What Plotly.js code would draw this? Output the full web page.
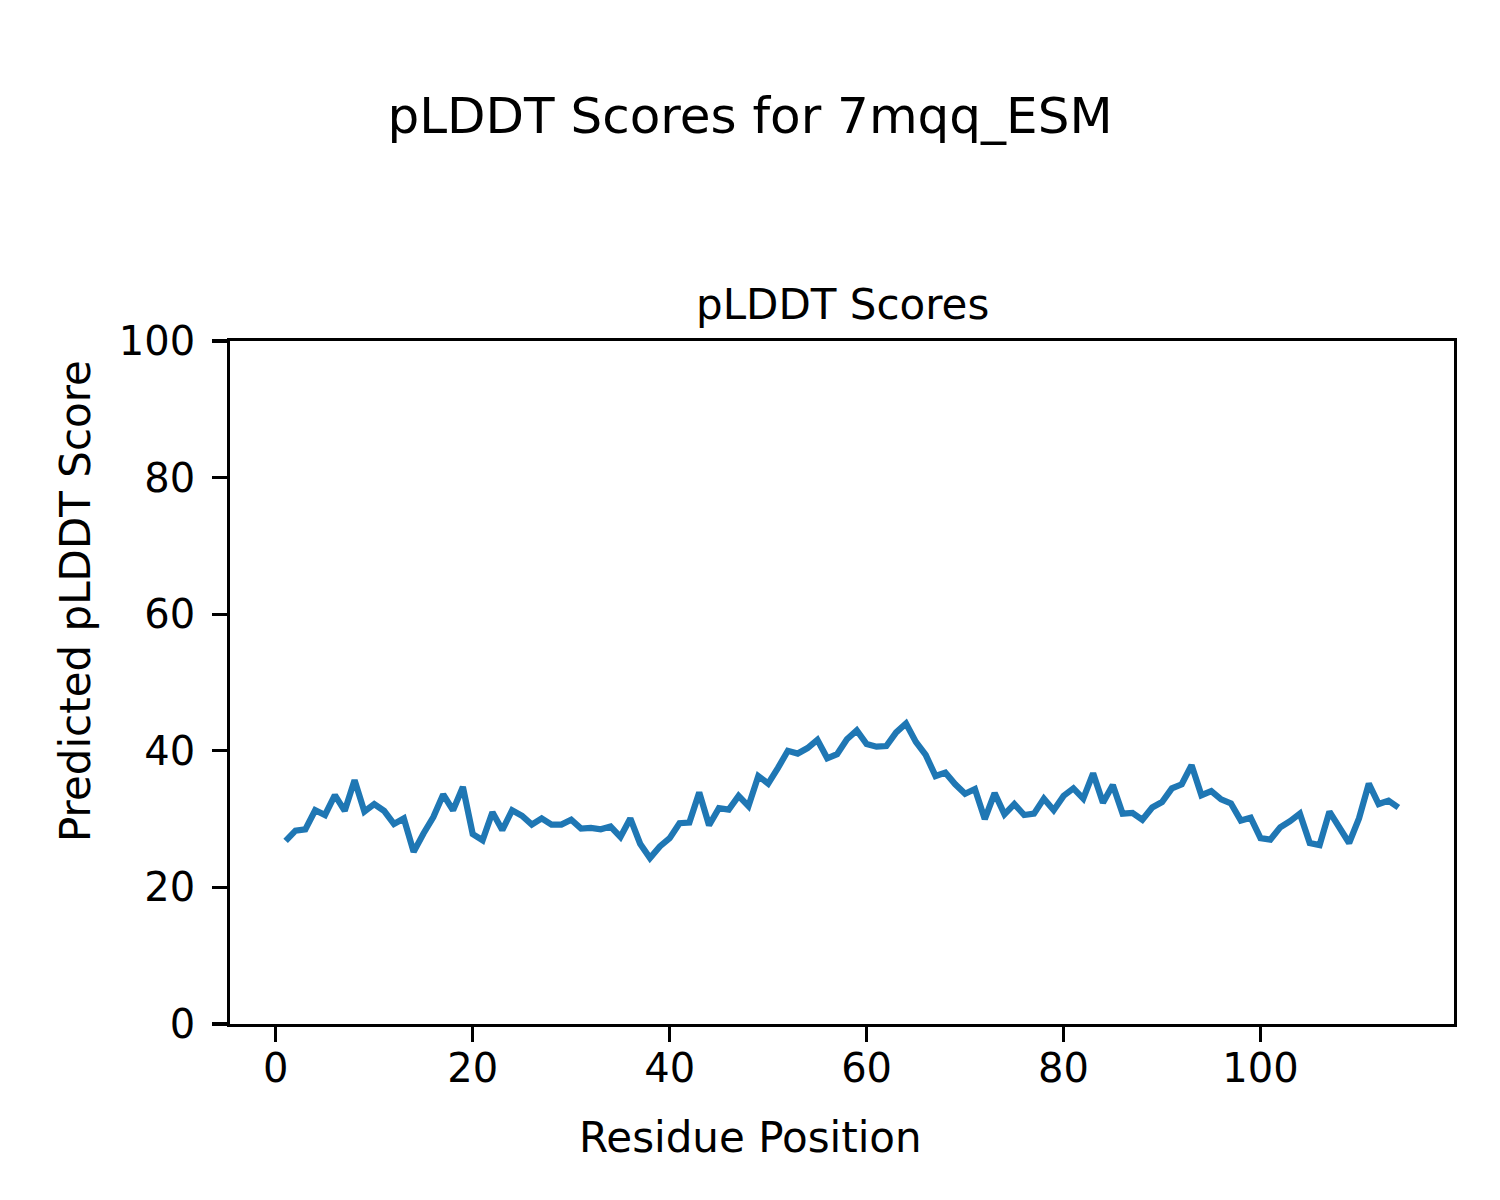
<!DOCTYPE html>
<html>
<head>
<meta charset="utf-8">
<script src="https://cdn.plot.ly/plotly-3.0.1.min.js"></script>
<style>html,body{margin:0;padding:0;background:#fff;}#chart{width:1500px;height:1200px;}</style>
</head>
<body>
<div id="chart"></div>
<script>
const residues = [];
for (let i = 1; i <= 114; i++) residues.push(i);
const plddt = [
  26.8, 28.3, 28.5, 31.3, 30.6, 33.5, 31.2, 35.7, 31.1, 32.2,
  31.2, 29.3, 30.1, 25.2, 27.9, 30.3, 33.6, 31.3, 34.7, 27.8,
  26.9, 31.0, 28.4, 31.3, 30.5, 29.2, 30.1, 29.2, 29.2, 29.9,
  28.6, 28.7, 28.5, 28.9, 27.4, 30.1, 26.4, 24.3, 26.0, 27.2,
  29.4, 29.5, 33.9, 29.1, 31.6, 31.4, 33.4, 31.9, 36.3, 35.2,
  37.5, 40.0, 39.6, 40.4, 41.6, 38.9, 39.5, 41.7, 43.0, 41.0,
  40.6, 40.7, 42.7, 44.0, 41.3, 39.4, 36.3, 36.8, 35.1, 33.7,
  34.4, 30.0, 33.8, 30.7, 32.2, 30.6, 30.8, 33.0, 31.3, 33.4,
  34.5, 33.0, 36.7, 32.4, 35.0, 30.8, 30.9, 29.9, 31.7, 32.5,
  34.5, 35.1, 37.9, 33.5, 34.1, 32.9, 32.3, 29.8, 30.2, 27.2,
  27.0, 28.8, 29.7, 30.8, 26.5, 26.2, 31.1, 28.8, 26.5, 30.1,
  35.2, 32.2, 32.7, 31.7
];
const xTicks = [0, 20, 40, 60, 80, 100];
const yTicks = [0, 20, 40, 60, 80, 100];

const font = {family: 'DejaVu Sans', color: '#000'};
const axisCommon = {
  showgrid: false, zeroline: false, showline: true, mirror: true,
  linecolor: '#000', linewidth: 3.3, ticks: 'outside', ticklen: 14.6,
  tickwidth: 3.3, tickcolor: '#000',
  tickfont: {family: 'DejaVu Sans', size: 40, color: '#000'}
};

const trace = {
  x: residues, y: plddt, type: 'scatter', mode: 'lines',
  line: {color: '#1f77b4', width: 6.25}, hoverinfo: 'skip'
};

const layout = {
  width: 1500, height: 1200,
  paper_bgcolor: '#fff', plot_bgcolor: '#fff',
  margin: {l: 230, r: 46, t: 341, b: 176},
  showlegend: false,
  font: font,
  title: {text: 'pLDDT Scores for 7mqq_ESM', font: {family: 'DejaVu Sans', size: 50, color: '#000'},
          xref: 'container', yref: 'container', x: 0.5, xanchor: 'center', y: 1 - 115/1200, yanchor: 'middle'},
  xaxis: Object.assign({}, axisCommon, {range: [-4.65, 119.65], tickvals: xTicks, ticktext: xTicks.map(String), ticklabelstandoff: -8}),
  yaxis: Object.assign({}, axisCommon, {range: [0, 100], tickvals: yTicks, ticktext: yTicks.map(String), ticklabelstandoff: 9}),
  annotations: [
    {text: 'pLDDT Scores', xref: 'paper', yref: 'paper', x: 0.5, y: 1, xanchor: 'center', yanchor: 'middle',
     yshift: 37, showarrow: false, font: {family: 'DejaVu Sans', size: 42, color: '#000'}},
    {text: 'Residue Position', xref: 'paper', yref: 'paper', x: (750 - 230) / 1224, y: 0, xanchor: 'center', yanchor: 'middle',
     yshift: -(1137 - 1024), showarrow: false, font: {family: 'DejaVu Sans', size: 42, color: '#000'}},
    {text: 'Predicted pLDDT Score', xref: 'paper', yref: 'paper', x: 0, y: (1024 - 601) / 683, xanchor: 'center', yanchor: 'middle',
     xshift: -(230 - 75), textangle: -90, showarrow: false, font: {family: 'DejaVu Sans', size: 42, color: '#000'}}
  ]
};

Plotly.newPlot('chart', [trace], layout, {staticPlot: true, displayModeBar: false});
</script>
</body>
</html>
